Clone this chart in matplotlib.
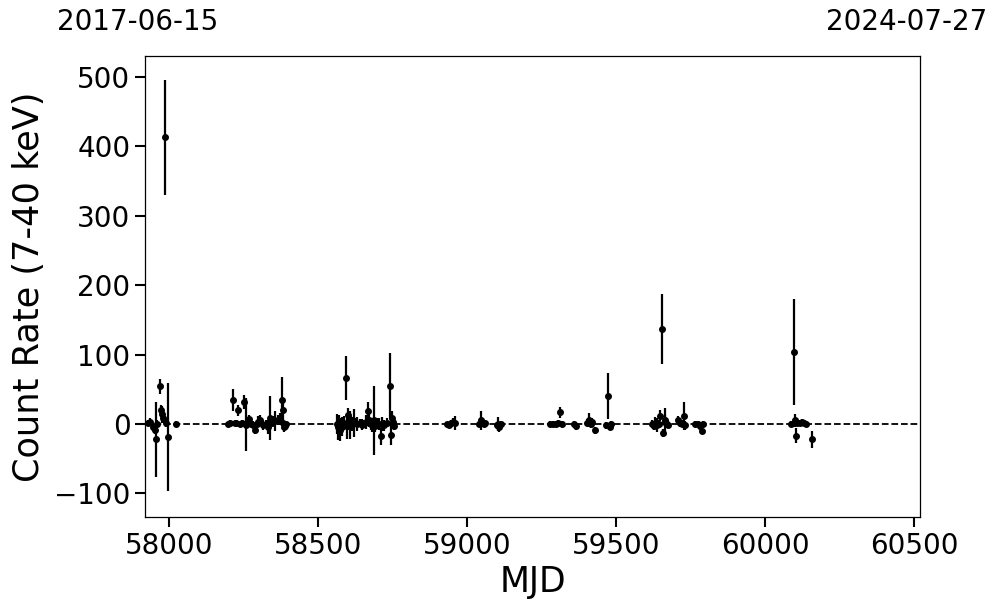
import matplotlib
matplotlib.use("Agg")
import matplotlib.pyplot as plt
import numpy as np

# MJD, count rate, error
mjd = [57930, 57936, 57946, 57953, 57956, 57960, 57970, 57973, 57977, 57980, 57987, 57990, 57997, 58023,
       58198, 58205, 58215, 58220, 58225, 58232, 58238, 58245, 58252, 58258, 58262, 58268, 58275, 58282,
       58289, 58295, 58299, 58305, 58315, 58326, 58332, 58339, 58346, 58351, 58356, 58366, 58370, 58373,
       58379, 58381, 58383, 58385, 58389, 58393,
       58564, 58567, 58570, 58574, 58577, 58581, 58584, 58587, 58594, 58597, 58601, 58604, 58607, 58611,
       58614, 58620, 58624, 58630, 58641, 58647, 58655, 58661, 58668, 58671, 58676, 58681, 58688, 58692,
       58698, 58705, 58712, 58715, 58722, 58732, 58742, 58745, 58748, 58752, 58755,
       58933, 58940, 58946, 58953, 58960, 59040, 59045, 59050, 59055, 59060, 59100, 59104, 59108, 59114,
       59279, 59289, 59299, 59306, 59312, 59318, 59359, 59366, 59403, 59409, 59414, 59420, 59430, 59467,
       59473, 59478, 59484,
       59621, 59625, 59631, 59638, 59644, 59648, 59654, 59658, 59662, 59665, 59668, 59675, 59708, 59715,
       59720, 59728, 59732, 59765, 59775, 59782, 59787, 59792,
       60085, 60095, 60100, 60104, 60108, 60115, 60122, 60130, 60136, 60158]
rate = [1, 3, -4, -8, -22, 0, 54, 20, 14, 9, 413, 2, -19, 0,
        0, 2, 35, 1, 2, 20, 0, 1, 32, -1, 2, 7, 0, -1,
        -9, 0, 3, 5, -2, 0, -5, 9, 2, 5, 4, 6, 4, 8,
        34, 20, 2, -5, -3, 0,
        0, -5, 3, -8, -2, -4, 0, 2, 66, -3, 13, 0, -2, 3,
        0, 1, 2, 0, 1, -1, 0, 3, 19, 5, 0, -2, 5, -3,
        2, 0, -18, 0, -2, 2, 55, -16, 8, 3, -3,
        0, -2, 1, 3, 2, 0, 5, 2, 0, 1, -2, 0, -5, 0,
        0, 0, 0, 1, 17, 0, 0, -3, 2, 6, 0, 3, -9, -2,
        40, -4, 0,
        0, -3, 2, -2, 0, 12, 137, -13, 5, 3, 1, -1, 5, 2,
        0, 11, -2, 0, 0, -3, -10, 0,
        0, 104, 5, -17, 2, 1, 3, 2, 0, -22]
err = [4, 5, 6, 7, 54, 5, 11, 8, 12, 8, 83, 6, 78, 4,
       3, 4, 16, 3, 4, 8, 3, 4, 10, 38, 5, 6, 4, 5,
       6, 5, 8, 8, 6, 5, 10, 32, 5, 6, 14, 7, 5, 8,
       33, 15, 5, 6, 5, 4,
       15, 18, 10, 16, 10, 14, 8, 10, 32, 18, 10, 8, 20, 8,
       10, 20, 6, 10, 6, 8, 5, 10, 12, 10, 8, 10, 50, 8,
       6, 8, 12, 10, 8, 6, 47, 14, 10, 6, 5,
       3, 4, 4, 5, 10, 4, 14, 6, 4, 4, 5, 10, 6, 4,
       4, 4, 4, 4, 8, 4, 4, 5, 5, 10, 6, 5, 5, 5,
       33, 5, 4,
       5, 6, 8, 10, 6, 8, 50, 6, 8, 20, 6, 5, 6, 6,
       5, 20, 6, 4, 4, 5, 5, 4,
       4, 76, 10, 11, 5, 4, 4, 4, 4, 12]

xlim = (57919, 60519)
ylim = (-134, 530)
start_label = "2017-06-15"
end_label = "2024-07-27"

W, H = 997, 613
fig = plt.figure(figsize=(W / 100, H / 100), dpi=100)
ax = fig.add_axes([145 / W, 1 - 517 / H, (920 - 145) / W, (517 - 56) / H])

ax.axhline(0, color="black", linestyle="--", linewidth=1.3, zorder=1)
ax.errorbar(mjd, rate, yerr=err, fmt="o", color="black", markersize=4,
            elinewidth=1.6, capsize=0, zorder=3)

ax.set_xlim(*xlim)
ax.set_ylim(*ylim)
ax.set_xticks([58000, 58500, 59000, 59500, 60000, 60500])
ax.set_yticks([-100, 0, 100, 200, 300, 400, 500])
ax.tick_params(axis="both", which="major", labelsize=20, length=7, width=1.5)
for s in ax.spines.values():
    s.set_linewidth(0.9)

ax.set_xlabel("MJD", fontsize=25)
ax.set_ylabel("Count Rate (7-40 keV)", fontsize=25.3, labelpad=6)

fig.text(57 / W, 1 - 22 / H, start_label, fontsize=20, ha="left", va="center")
fig.text(987 / W, 1 - 22 / H, end_label, fontsize=20, ha="right", va="center")

fig.savefig("out.png", dpi=100)
